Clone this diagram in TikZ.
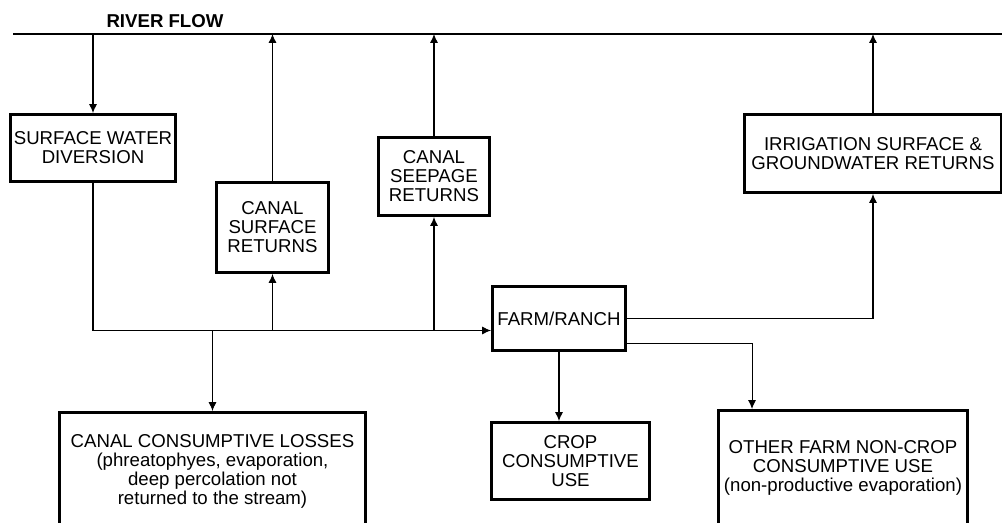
\documentclass[tikz,border=0pt]{standalone}
\usepackage{fontspec}
\setmainfont{Liberation Sans}
\usetikzlibrary{
    arrows.meta,
    calc,
    positioning
}
\tikzset{
    box/.style={draw, line width=1.7pt, align=center, inner sep=0pt,
        font=\fontsize{10.6}{10.8}\selectfont},
    flow/.style={line width=0.6pt, -{Latex[length=5pt,width=4.5pt]}}
}

\begin{document}
\begin{tikzpicture}[x=0.02cm, y=-0.02cm]
                        \useasboundingbox (0,0) rectangle (1002,522);
                        \coordinate (rl) at (13,34);
                        \coordinate (rr) at (1002,34);
                        \node[font=\fontsize{10.6}{10.8}\selectfont\bfseries] (lbl) at (165,21) {RIVER FLOW};

                        \node[box, minimum width=3.30cm, minimum height=1.34cm] (swd) at (93,148) {SURFACE WATER\\DIVERSION};
                        \node[box, minimum width=2.24cm, minimum height=1.80cm] (csr) at (272.5,227.5) {CANAL\\SURFACE\\RETURNS};
                        \node[box, minimum width=2.22cm, minimum height=1.56cm] (seep) at (434,176.5) {CANAL\\SEEPAGE\\RETURNS};
                        \node[box, minimum width=5.14cm, minimum height=1.56cm] (irr) at (873,153.5) {IRRIGATION SURFACE \&\\GROUNDWATER RETURNS};
                        \node[box, minimum width=2.66cm, minimum height=1.28cm] (farm) at (559,318.5) {FARM/RANCH};
                        \node[box, minimum width=3.16cm, minimum height=1.54cm] (crop) at (570.5,461) {CROP\\CONSUMPTIVE\\USE};
                        \node[box, minimum width=6.12cm, minimum height=2.34cm] (loss) at (212.5,471) {CANAL CONSUMPTIVE LOSSES\\(phreatophyes, evaporation,\\deep percolation not\\returned to the stream)};
                        \node[box, minimum width=4.98cm, minimum height=2.30cm] (other) at (843,468) {OTHER FARM NON-CROP\\CONSUMPTIVE USE\\(non-productive evaporation)};

                        % river
                        \draw[line width=0.6pt] (rl) -- (rr);

                        % diversion and canal
                        \draw[flow] (swd.north |- rl) -- (swd.north);
                        \draw[flow] (swd.south) |- (farm.190);
                        \draw[flow] (loss.north |- farm.190) -- (loss.north);
                        \draw[flow] (csr.south |- farm.190) -- (csr.south);
                        \draw[flow] (csr.north) -- (csr.north |- rl);
                        \draw[flow] (seep.south |- farm.190) -- (seep.south);
                        \draw[flow] (seep.north) -- (seep.north |- rl);

                        % farm
                        \draw[flow] (farm.east) -| (irr.south);
                        \draw[flow] (irr.north) -- (irr.north |- rl);
                        \draw[flow] (farm.south) -- (farm.south |- crop.north);
                        \draw[flow] (farm.-20) -| ($(other.north west)+(35,0)$);
                    \end{tikzpicture}
\end{document}
